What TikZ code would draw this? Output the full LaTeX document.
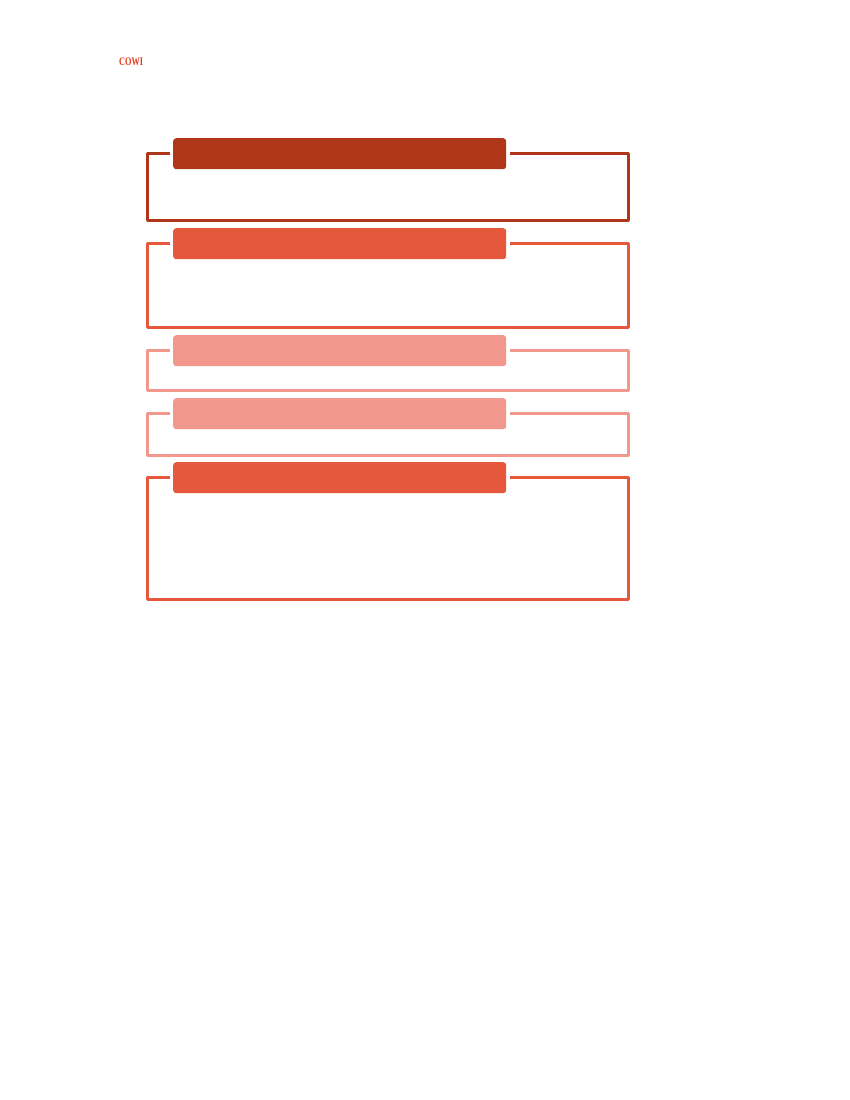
\documentclass[tikz,border=0pt]{standalone}
\usepackage{fontspec}
\setmainfont{Liberation Serif}
\definecolor{cdark}{HTML}{B0361A}
\definecolor{cmid}{HTML}{E5583C}
\definecolor{clight}{HTML}{F1978B}
\definecolor{clogo}{HTML}{E83A1A}
\tikzset{
  frameline/.style={line width=3pt, line join=round},
  header/.style={rounded corners=3pt, inner sep=0pt, minimum width=333pt, anchor=north west},
}
\begin{document}
\begin{tikzpicture}[x=1pt,y=-1pt]
\useasboundingbox[fill=white] (0,0) rectangle (850,1100);
\node[text=clogo, font=\bfseries\fontsize{11.5}{12}\selectfont, anchor=west, inner sep=0pt, xscale=0.72] (logo) at (119,62) {COWI};
% frames: (top of frame, bottom of frame, header top, colour)
\foreach \name/\ft/\fb/\ht/\col in {a/153/220/138/cdark, b/243/327/228/cmid, c/350/390/335/clight, d/413/455/398/clight, e/477/599/462/cmid}{
  \draw[frameline, draw=\col] (170,\ft) -- (147,\ft) -- (147,\fb) -- (628,\fb) -- (628,\ft) -- (510,\ft);
  \node[header, fill=\col, minimum height=31pt] (h\name) at (173,\ht) {};
}
\end{tikzpicture}
\end{document}
